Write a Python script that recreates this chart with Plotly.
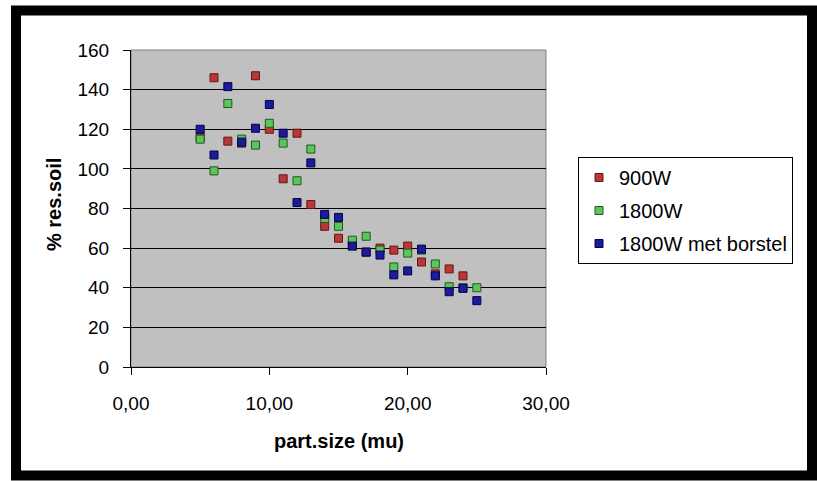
import plotly.graph_objects as go

# --- data ---
x_900 = [5, 6, 7, 8, 9, 10, 11, 12, 13, 14, 15, 16, 17, 18, 19, 20, 21, 22, 23, 24]
y_900 = [116, 146, 114, 113, 147, 120, 95, 118, 82, 71, 65, 62, 58, 60, 59, 61, 53, 47, 49.5, 46]

x_1800 = [5, 6, 7, 8, 9, 10, 11, 12, 13, 14, 15, 16, 17, 18, 19, 20, 21, 22, 23, 24, 25]
y_1800 = [115, 99, 133, 115, 112, 123, 113, 94, 110, 75, 71, 64, 66, 59, 50.5, 57.5, 59, 52, 40.5, 40, 40]

x_borst = [5, 6, 7, 8, 9, 10, 11, 12, 13, 14, 15, 16, 17, 18, 19, 20, 21, 22, 23, 24, 25]
y_borst = [120, 107, 141.5, 113.5, 120.5, 132.5, 118, 83, 103, 77, 75.5, 61, 58, 56.5, 46.5, 48.5, 59.5, 46, 38, 39.7, 33.5]

series_names = ["900W", "1800W", "1800W met borstel"]
fills = ["#b83838", "#5cc65c", "#1c1c96"]
edges = ["#6a1414", "#1c5a1c", "#000055"]

x_ticks = [0, 10, 20, 30]
y_ticks = [0, 20, 40, 60, 80, 100, 120, 140, 160]

W, H = 817, 481
L, R, T, B = 131, 271, 50, 114
pw, ph = W - L - R, H - T - B

def px(xp):
    return (xp - L) / pw

def py(yp):
    return (H - B - yp) / ph

fig = go.Figure()
for i, (xs, ys) in enumerate([(x_900, y_900), (x_1800, y_1800), (x_borst, y_borst)]):
    fig.add_trace(go.Scatter(
        x=xs, y=ys, mode="markers", name=series_names[i], legendgroup=str(i),
        marker=dict(symbol="square", size=8, color=fills[i],
                    line=dict(color=edges[i], width=1)),
    ))

font = "Arial, Liberation Sans, sans-serif"

fig.update_layout(
    width=W, height=H,
    margin=dict(l=L, r=R, t=T, b=B),
    paper_bgcolor="white",
    plot_bgcolor="#c0c0c0",
    separators=",.",
    font=dict(family=font, size=19, color="black"),
    showlegend=True,
    legend=dict(
        x=px(578), y=py(157), xanchor="left", yanchor="top",
        bgcolor="white", bordercolor="black", borderwidth=1,
        font=dict(size=20), itemsizing="trace", itemwidth=30,
        tracegroupgap=4, traceorder="grouped",
    ),
    xaxis=dict(
        range=[0, 30], tickvals=x_ticks, tickformat=".2f",
        showgrid=False, zeroline=False,
        showline=True, linecolor="black", linewidth=1,
        ticks="outside", ticklen=7, tickcolor="black",
        ticklabelstandoff=12,
    ),
    yaxis=dict(
        range=[0, 160], tickvals=y_ticks,
        showgrid=True, gridcolor="black", gridwidth=1,
        zeroline=False,
        showline=True, linecolor="black", linewidth=1,
        ticks="outside", ticklen=7, tickcolor="black",
        ticklabelstandoff=10,
    ),
    shapes=[
        dict(type="rect", xref="paper", yref="paper", x0=0, x1=1, y0=0, y1=1,
             line=dict(color="#808080", width=1), layer="below"),
        dict(type="rect", xref="paper", yref="paper",
             x0=px(16), x1=px(812), y0=py(475.5), y1=py(10.5),
             line=dict(color="black", width=10), fillcolor="rgba(0,0,0,0)", layer="above"),
    ],
    annotations=[
        dict(text="<b>part.size (mu)</b>", xref="paper", yref="paper",
             x=0.5, y=py(441), xanchor="center", yanchor="middle",
             showarrow=False, font=dict(size=20)),
        dict(text="<b>% res.soil</b>", xref="paper", yref="paper",
             x=px(54), y=py(205), xanchor="center", yanchor="middle",
             textangle=-90, showarrow=False, font=dict(size=20)),
    ],
)

fig.write_html("out.html")
